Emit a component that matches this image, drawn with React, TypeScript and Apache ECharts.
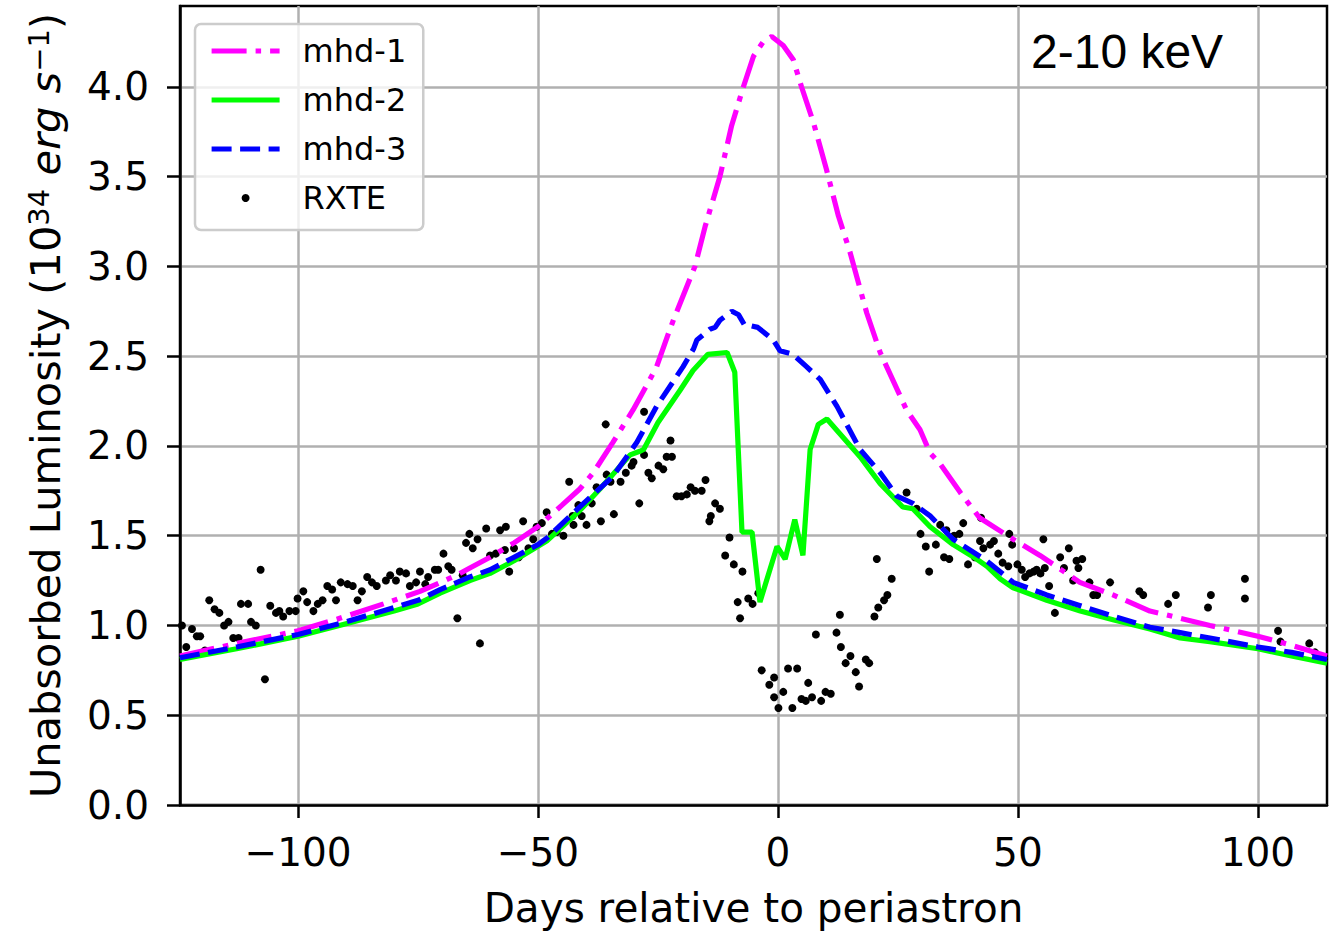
import React, { useEffect, useRef } from "react";
import * as echarts from "echarts";

// ---------- axis ticks ----------
const xTicks = [-100, -50, 0, 50, 100];
const yTicks = [0, 0.5, 1, 1.5, 2, 2.5, 3, 3.5, 4];

// ---------- mhd-1 ----------
const mhd1Days = [-124.6, -112.8, -100, -91.9, -82.2, -74.6, -66.9, -64.2, -60, -55, -50, -45, -41.3, -38.5, -34.4, -30.2, -26.7, -25.3, -22.5, -21.8, -17.3, -15.2, -12.1, -9.7, -7.2, -5.1, -3.1, -1.3, 1.1, 3.2, 4.9, 7.4, 10.1, 12.6, 15.0, 18.5, 21.3, 26.8, 29.6, 31.7, 33.8, 38.0, 42.0, 49.0, 54.6, 62.9, 69.8, 77.5, 82.3, 90, 100, 107, 114.4];
const mhd1Lum = [0.83, 0.90, 0.97, 1.035, 1.12, 1.19, 1.28, 1.32, 1.38, 1.46, 1.55, 1.67, 1.76, 1.85, 2.02, 2.20, 2.37, 2.44, 2.65, 2.70, 3.00, 3.22, 3.50, 3.78, 4.00, 4.17, 4.25, 4.28, 4.23, 4.15, 4.00, 3.80, 3.54, 3.28, 3.08, 2.74, 2.52, 2.20, 2.09, 1.96, 1.90, 1.74, 1.60, 1.48, 1.39, 1.24, 1.17, 1.08, 1.05, 1.00, 0.94, 0.89, 0.83];

// ---------- mhd-2 ----------
const mhd2Days = [-124.6, -112.8, -100, -90, -80, -75, -70.4, -64.2, -60, -55, -48.2, -41.3, -37.1, -30.8, -28.8, -28.0, -25, -20.4, -17.7, -14.6, -10.6, -9.0, -7.5, -5.4, -3.75, -0.2, 1.5, 3.5, 5.2, 6.7, 8.4, 10.2, 17.1, 21.3, 26.0, 28.1, 31.7, 36.5, 41.4, 43.5, 46.3, 49.0, 56.0, 63.0, 70, 77.5, 83.8, 90, 100, 107, 114.4];
const mhd2Lum = [0.81, 0.87, 0.94, 1.01, 1.08, 1.12, 1.18, 1.25, 1.29, 1.36, 1.47, 1.64, 1.76, 1.95, 1.97, 1.98, 2.13, 2.31, 2.42, 2.51, 2.52, 2.41, 1.52, 1.52, 1.13, 1.44, 1.37, 1.59, 1.39, 1.98, 2.12, 2.15, 1.94, 1.79, 1.66, 1.65, 1.55, 1.45, 1.37, 1.33, 1.26, 1.21, 1.14, 1.08, 1.03, 0.98, 0.93, 0.91, 0.87, 0.83, 0.79];

// ---------- mhd-3 ----------
const mhd3Days = [-124.6, -112.8, -100, -90, -80, -75, -70.4, -64.2, -60, -55, -50, -48, -41.3, -34.4, -29.4, -25.3, -19.8, -17.6, -16.9, -14.2, -13.1, -12.1, -9.6, -8.2, -6.9, -5.8, -4.2, -1.0, 0.4, 3.1, 6.0, 8.8, 12.3, 17.1, 21.3, 24.8, 28.1, 31.7, 36.5, 43.5, 49.0, 56, 63.0, 70, 77.5, 83.8, 90, 100, 107, 114.4];
const mhd3Lum = [0.82, 0.88, 0.95, 1.02, 1.10, 1.14, 1.20, 1.27, 1.31, 1.38, 1.45, 1.49, 1.66, 1.83, 2.02, 2.22, 2.44, 2.54, 2.59, 2.65, 2.66, 2.70, 2.75, 2.73, 2.67, 2.67, 2.66, 2.59, 2.53, 2.51, 2.44, 2.37, 2.22, 1.98, 1.85, 1.72, 1.68, 1.61, 1.48, 1.36, 1.24, 1.17, 1.11, 1.05, 0.99, 0.96, 0.93, 0.88, 0.85, 0.81];

// ---------- RXTE observations ----------
const rxteDays = [
  -124.2, -123.3, -122.1, -121.1, -120.4, -119.4, -118.5, -117.4, -116.4, -115.4,
  -114.5, -113.5, -112.4, -111.9, -110.4, -109.8, -108.8, -107.8, -106.9, -105.8,
  -104.6, -103.9, -103.1, -101.8, -100.5, -100.1, -98.9, -98.1, -96.8, -95.9,
  -94.9, -93.9, -92.9, -92.1, -91.1, -89.7, -88.6, -87.6, -86.7, -85.6,
  -84.6, -83.6, -81.7, -80.8, -79.6, -78.8, -77.5, -76.7, -75.4, -74.6,
  -73.5, -72.9, -71.5, -70.8, -69.7, -68.7, -68.0, -66.8, -65.7, -65.0,
  -64.3, -62.1, -63.6, -62.6, -60.8, -60.0, -58.8, -57.9, -56.7, -56.9,
  -56.0, -55.0, -54.0, -53.1, -52.0, -51.0, -50.3, -49.2, -48.2, -47.1,
  -46.1, -44.7, -43.5, -42.8, -42.6, -41.6, -40.9, -39.9, -38.8, -37.8,
  -36.9, -35.9, -35.7, -34.9, -34.2, -32.8, -31.7, -30.5, -30.1, -28.9,
  -27.9, -27.9, -27.0, -26.3, -24.9, -23.9, -23.2, -22.4, -22.1, -21.1,
  -20.1, -19.0, -18.2, -17.3, -15.9, -15.1, -14.3, -14.0, -13.1, -12.1,
  -11.0, -10.1, -9.2, -8.4, -7.9, -7.4, -6.2, -5.3, -4.1, -3.4,
  -1.8, -0.8, -0.8, 0.1, 1.1, 2.1, 3.0, 4.0, 4.9, 5.8,
  6.3, 7.1, 7.9, 9.0, 9.9, 11.0, 12.2, 12.9, 13.1, 14.1,
  15.1, 16.2, 16.9, 18.3, 19.0, 20.1, 20.6, 20.9, 22.1, 22.8,
  23.7, 26.8, 28.9, 29.7, 30.8, 31.5, 32.9, 33.8, 34.6, 35.1,
  35.7, 36.7, 37.8, 38.6, 39.6, 41.0, 42.1, 42.3, 42.8, 44.2,
  45.0, 45.9, 46.8, 48.0, 48.2, 48.8, 49.9, 50.8, 51.5, 52.4,
  53.3, 53.9, 54.7, 55.3, 55.6, 56.5, 57.7, 58.8, 59.6, 60.6,
  61.5, 62.2, 62.6, 63.4, 64.9, 65.7, 66.5, 69.2, 75.3, 76.1,
  81.3, 82.9, 89.6, 90.2, 97.3, 97.3, 104.2, 104.7, 110.7, 111.9
];
const rxteLum = [
  1.00, 0.88, 0.98, 0.94, 0.94, 0.86, 1.14, 1.09, 1.07, 1.00,
  1.02, 0.93, 0.93, 1.12, 1.12, 1.02, 1.00, 1.31, 0.70, 1.11,
  1.07, 1.08, 1.05, 1.08, 1.08, 1.15, 1.19, 1.13, 1.08, 1.12,
  1.14, 1.22, 1.20, 1.14, 1.24, 1.23, 1.22, 1.14, 1.19, 1.27,
  1.24, 1.22, 1.25, 1.28, 1.25, 1.30, 1.29, 1.22, 1.24, 1.30,
  1.23, 1.27, 1.31, 1.31, 1.40, 1.33, 1.31, 1.04, 1.28, 1.46,
  1.51, 0.90, 1.43, 1.48, 1.54, 1.39, 1.40, 1.53, 1.55, 1.42,
  1.30, 1.43, 1.38, 1.58, 1.43, 1.48, 1.55, 1.57, 1.63, 1.51,
  1.52, 1.50, 1.80, 1.61, 1.56, 1.67, 1.61, 1.56, 1.68, 1.77,
  1.58, 2.12, 1.84, 1.80, 1.62, 1.80, 1.85, 1.89, 1.91, 1.68,
  2.19, 1.95, 1.85, 1.82, 1.89, 1.87, 1.94, 2.03, 1.94, 1.72,
  1.72, 1.73, 1.77, 1.75, 1.75, 1.81, 1.58, 1.61, 1.68, 1.65,
  1.39, 1.49, 1.34, 1.13, 1.04, 1.30, 1.15, 1.12, 1.18, 0.75,
  0.67, 0.71, 0.60, 0.54, 0.63, 0.76, 0.54, 0.76, 0.59, 0.58,
  0.68, 0.60, 0.95, 0.58, 0.63, 0.62, 0.96, 1.06, 0.88, 0.79,
  0.83, 0.74, 0.66, 0.81, 0.79, 1.05, 1.37, 1.10, 1.14, 1.17,
  1.26, 1.74, 1.65, 1.51, 1.44, 1.30, 1.45, 1.56, 1.38, 1.53,
  1.37, 1.50, 1.51, 1.57, 1.34, 1.38, 1.47, 1.60, 1.43, 1.45,
  1.47, 1.40, 1.35, 1.33, 1.51, 1.45, 1.34, 1.31, 1.27, 1.29,
  1.30, 1.31, 1.29, 1.48, 1.32, 1.22, 1.07, 1.38, 1.32, 1.43,
  1.25, 1.36, 1.32, 1.37, 1.24, 1.17, 1.17, 1.24, 1.19, 1.17,
  1.12, 1.17, 1.10, 1.17, 1.26, 1.15, 0.97, 0.91, 0.90, 0.85
];

const zip = (xs: number[], ys: number[]) => xs.map((x, i) => [x, ys[i]]);

const DEJAVU = "DejaVu Sans";
const minusFmt = (v: number) => String(v).replace("-", "\u2212");
const LINE_W = 5.2;
const hiddenMarker = { opacity: 0 };

export default function App() {
  const ref = useRef<HTMLDivElement>(null);

  useEffect(() => {
    if (!ref.current) return;
    const chart = echarts.init(ref.current, undefined, { renderer: "svg" });

    const option: any = {
      animation: false,
      backgroundColor: "#ffffff",
      textStyle: { fontFamily: DEJAVU },
      title: {
        text: "2-10 keV",
        left: 1031,
        top: 27,
        padding: 0,
        textStyle: {
          fontFamily: "Liberation Sans",
          fontSize: 48,
          fontWeight: "normal",
          color: "#000000",
        },
      },
      grid: {
        left: 180,
        right: 2,
        top: 6,
        bottom: 127,
        show: true,
        borderColor: "#000000",
        borderWidth: 2.5,
        backgroundColor: "transparent",
      },
      legend: {
        orient: "vertical",
        left: 195,
        top: 24,
        padding: [11, 17, 16, 14],
        itemWidth: 68,
        itemHeight: 8,
        itemGap: 17,
        selectedMode: false,
        backgroundColor: "rgba(255,255,255,0.8)",
        borderColor: "#cccccc",
        borderWidth: 2.5,
        borderRadius: 6,
        lineStyle: { width: LINE_W },
        textStyle: {
          fontFamily: DEJAVU,
          fontSize: 32,
          color: "#000000",
          padding: [0, 0, 0, 18],
        },
        data: [
          { name: "mhd-1", itemStyle: hiddenMarker },
          { name: "mhd-2", itemStyle: hiddenMarker },
          { name: "mhd-3", itemStyle: hiddenMarker },
          { name: "RXTE", icon: "circle" },
        ],
      },
      xAxis: {
        type: "value",
        min: -124.6,
        max: 114.4,
        name: "Days relative to periastron",
        nameLocation: "middle",
        nameGap: 82,
        nameTextStyle: { fontFamily: DEJAVU, fontSize: 40.5, color: "#000000" },
        axisLine: { show: true, onZero: false, lineStyle: { color: "#000000", width: 2.5 } },
        axisTick: {
          show: true,
          inside: false,
          length: 13,
          customValues: xTicks,
          lineStyle: { color: "#000000", width: 2.5 },
        },
        axisLabel: {
          customValues: xTicks,
          fontFamily: DEJAVU,
          fontSize: 39,
          color: "#000000",
          margin: 28,
          formatter: minusFmt,
        },
        splitLine: { show: true, lineStyle: { color: "#b0b0b0", width: 2.5 } },
      },
      yAxis: {
        type: "value",
        min: 0,
        max: 4.45,
        interval: 0.5,
        name: "Unabsorbed Luminosity (10{sup|34} {it|erg s}{sup|\u22121})",
        nameLocation: "middle",
        nameRotate: 90,
        nameGap: 114,
        nameTextStyle: {
          fontFamily: DEJAVU,
          fontSize: 41.5,
          color: "#000000",
          rich: {
            it: { fontFamily: DEJAVU, fontSize: 41.5, fontStyle: "italic", color: "#000000" },
            sup: { fontFamily: DEJAVU, fontSize: 29, color: "#000000", verticalAlign: "top" },
          },
        },
        axisLine: { show: true, onZero: false, lineStyle: { color: "#000000", width: 2.5 } },
        axisTick: {
          show: true,
          inside: false,
          length: 13,
          customValues: yTicks,
          lineStyle: { color: "#000000", width: 2.5 },
        },
        axisLabel: {
          customValues: yTicks,
          fontFamily: DEJAVU,
          fontSize: 39,
          color: "#000000",
          margin: 31,
          formatter: (v: number) => v.toFixed(1),
        },
        splitLine: { show: true, lineStyle: { color: "#b0b0b0", width: 2.5 } },
      },
      series: [
        {
          name: "mhd-1",
          type: "line",
          data: zip(mhd1Days, mhd1Lum),
          showSymbol: false,
          symbol: "none",
          color: "#ff00ff",
          lineStyle: { color: "#ff00ff", width: LINE_W, type: [35, 9, 5.5, 9], cap: "butt" },
        },
        {
          name: "mhd-2",
          type: "line",
          data: zip(mhd2Days, mhd2Lum),
          showSymbol: false,
          symbol: "none",
          color: "#00ff00",
          lineStyle: { color: "#00ff00", width: LINE_W, type: "solid" },
        },
        {
          name: "mhd-3",
          type: "line",
          data: zip(mhd3Days, mhd3Lum),
          showSymbol: false,
          symbol: "none",
          color: "#0000ff",
          lineStyle: { color: "#0000ff", width: LINE_W, type: [20, 8.5], cap: "butt" },
        },
        {
          name: "RXTE",
          type: "scatter",
          data: zip(rxteDays, rxteLum),
          symbol: "circle",
          symbolSize: 8,
          itemStyle: { color: "#000000", opacity: 1 },
        },
      ],
    };

    chart.setOption(option);
    return () => {
      chart.dispose();
    };
  }, []);

  return (
    <div
      ref={ref}
      style={{ position: "fixed", left: 0, top: 0, width: 1329, height: 933, background: "#fff" }}
    />
  );
}
